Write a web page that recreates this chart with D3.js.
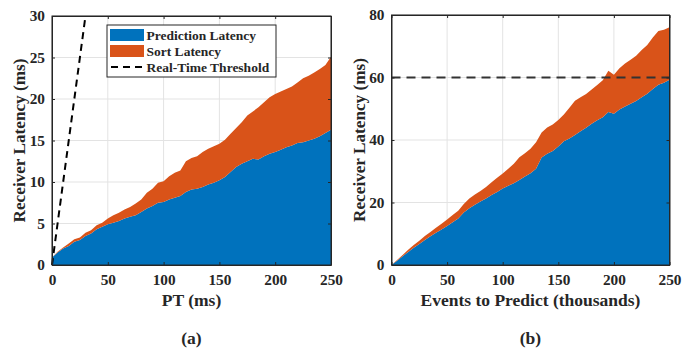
<!DOCTYPE html>
<html><head><meta charset="utf-8">
<script src="https://cdn.jsdelivr.net/npm/d3@7"></script>
<style>
body{margin:0;background:#fff;}
text{font-family:"Liberation Serif","Times New Roman",serif;font-weight:bold;fill:#262626;}
</style></head>
<body><svg id="c" width="694" height="348"></svg>
<script>
// ---- data ----
const xA = [0,5,10,15,20,25,30,35,40,45,50,55,60,65,70,75,80,85,90,95,100,105,110,115,120,125,130,135,140,145,150,155,160,165,170,175,180,185,190,195,200,205,210,215,220,225,230,235,240,245,250];
const predA = [0.9,1.5,2.0,2.3,2.8,3.0,3.5,3.8,4.3,4.6,4.9,5.1,5.3,5.6,5.8,6.0,6.4,6.8,7.1,7.5,7.6,7.9,8.1,8.3,8.8,9.1,9.2,9.4,9.7,9.9,10.2,10.6,11.2,11.8,12.2,12.5,12.8,12.7,13.1,13.4,13.6,13.9,14.2,14.4,14.7,14.8,15.0,15.2,15.5,15.9,16.3];
const sortA = [0.0,0.1,0.1,0.3,0.3,0.3,0.4,0.4,0.5,0.5,0.7,0.9,1.0,1.1,1.2,1.4,1.5,1.9,2.1,2.4,2.5,2.8,3.0,3.1,3.7,3.8,3.9,4.2,4.3,4.4,4.4,4.5,4.6,4.7,5.0,5.5,5.7,6.3,6.5,6.8,7.0,7.0,7.0,7.1,7.3,7.7,7.8,8.0,8.1,8.2,8.8];
const thresholdA = [0, 30];

const xB = [0,5,10,15,20,25,30,35,40,45,50,55,60,65,70,75,80,85,90,95,100,105,110,115,120,125,130,135,140,145,150,155,160,165,170,175,180,185,190,195,200,205,210,215,220,225,230,235,240,245,250];
const predB = [0,1.4,2.8,4.2,5.5,6.7,8.0,9.2,10.3,11.4,12.5,13.7,14.9,16.8,18.2,19.3,20.3,21.3,22.4,23.4,24.5,25.4,26.2,27.2,28.3,29.4,30.8,34.4,35.6,36.5,37.9,39.6,40.5,41.6,42.8,43.9,45.2,46.3,47.3,49.0,48.4,49.8,50.7,51.6,52.5,53.7,54.8,56.3,57.7,58.3,59.3];
const sortB = [0,0.2,0.4,0.7,0.9,1.1,1.3,1.4,1.6,1.8,2.1,2.3,2.5,2.7,3.1,3.3,3.4,3.7,4.1,4.5,4.8,5.4,6.2,7.3,7.5,7.8,8.5,8.0,8.4,8.5,8.5,8.6,9.8,11.0,10.9,10.8,11.0,11.3,11.8,13.2,12.5,13.2,13.8,14.1,14.5,15.1,15.6,16.5,17.2,17.0,16.8];
const thresholdB = 60;

const seriesNames = ["Prediction Latency","Sort Latency","Real-Time Threshold"];
const xTicks = [0,50,100,150,200,250];
const yTicksA = [0,5,10,15,20,25,30];
const yTicksB = [0,20,40,60,80];

const colors = ["#0072BD","#D95319"];

// ---- drawing ----
const svg = d3.select("#c");

function panel(opt){
  const g = svg.append("g");
  const x = d3.scaleLinear().domain([0,250]).range([opt.left, opt.right]);
  const y = d3.scaleLinear().domain([0,opt.ymax]).range([opt.bottom, opt.top]);
  g.append("g").selectAll("line").data(xTicks).join("line")
    .attr("x1",d=>x(d)).attr("x2",d=>x(d)).attr("y1",opt.top).attr("y2",opt.bottom)
    .attr("stroke","#e3e3e3").attr("stroke-width",1);
  g.append("g").selectAll("line").data(opt.yTicks).join("line")
    .attr("y1",d=>y(d)).attr("y2",d=>y(d)).attr("x1",opt.left).attr("x2",opt.right)
    .attr("stroke","#e3e3e3").attr("stroke-width",1);
  const rows = opt.xs.map((v,i)=>({x:v, pred:opt.pred[i], sort:opt.sort[i]}));
  const stack = d3.stack().keys(["pred","sort"])(rows);
  const area = d3.area().x(d=>x(d.data.x)).y0(d=>y(d[0])).y1(d=>y(d[1]));
  g.append("g").selectAll("path").data(stack).join("path")
    .attr("d",area).attr("fill",(d,i)=>colors[i]);
  return {g,x,y};
}

function axes(p, opt){
  const {g,x,y} = p;
  g.append("rect").attr("x",opt.left).attr("y",opt.top)
    .attr("width",opt.right-opt.left).attr("height",opt.bottom-opt.top)
    .attr("fill","none").attr("stroke","#262626").attr("stroke-width",1);
  const xa = g.append("g").attr("transform",`translate(0,${opt.bottom})`)
    .call(d3.axisBottom(x).tickValues(xTicks).tickSizeInner(-3).tickSizeOuter(0).tickPadding(9));
  const ya = g.append("g").attr("transform",`translate(${opt.left},0)`)
    .call(d3.axisLeft(y).tickValues(opt.yTicks).tickSizeInner(-3).tickSizeOuter(0).tickPadding(7));
  g.append("g").attr("transform",`translate(${opt.right},0)`)
    .call(d3.axisRight(y).tickValues(opt.yTicks).tickSizeInner(-3).tickSizeOuter(0).tickFormat(""));
  g.append("g").attr("transform",`translate(0,${opt.top})`)
    .call(d3.axisTop(x).tickValues(xTicks).tickSizeInner(-3).tickSizeOuter(0).tickFormat(""));
  g.selectAll(".domain").attr("stroke","#262626");
  g.selectAll(".tick line").attr("stroke","#262626");
  [xa,ya].forEach(a=>a.selectAll("text").style("font-family","'Liberation Serif','Times New Roman',serif")
    .style("font-weight","bold").style("font-size","15.3px").attr("fill","#262626"));
  const cx = (opt.left+opt.right)/2;
  g.append("text").attr("x",cx).attr("y",306).attr("text-anchor","middle")
    .style("font-size","17.5px").text(opt.xlabel);
  g.append("text").attr("transform",`translate(${opt.left-33},${(opt.top+opt.bottom)/2}) rotate(-90)`)
    .attr("dy","0.35em").attr("text-anchor","middle").style("font-size","17.2px").text("Receiver Latency (ms)");
  g.append("text").attr("x",cx).attr("y",344).attr("text-anchor","middle")
    .style("font-size","17.5px").text(opt.tag);
}

const optA = {left:52,right:331,top:16,bottom:265,ymax:30,yTicks:yTicksA,xs:xA,pred:predA,sort:sortA,xlabel:"PT (ms)",tag:"(a)"};
const pA = panel(optA);
pA.g.append("path").datum(thresholdA)
  .attr("d",d3.line().x(d=>pA.x(d)).y(d=>pA.y(d)))
  .attr("stroke","#000").attr("stroke-width",2).attr("stroke-dasharray","7,5").attr("fill","none");
axes(pA,optA);

const optB = {left:391.5,right:669.5,top:15,bottom:265,ymax:80,yTicks:yTicksB,xs:xB,pred:predB,sort:sortB,xlabel:"Events to Predict (thousands)",tag:"(b)"};
const pB = panel(optB);
pB.g.append("line").attr("x1",pB.x(0)).attr("x2",pB.x(250))
  .attr("y1",pB.y(thresholdB)).attr("y2",pB.y(thresholdB))
  .attr("stroke","#333").attr("stroke-width",2).attr("stroke-dasharray","9,6");
axes(pB,optB);

// legend
const lg = svg.append("g");
lg.append("rect").attr("x",107).attr("y",25).attr("width",169).attr("height",52)
  .attr("fill","#fff").attr("stroke","#262626").attr("stroke-width",1);
const rowsY = [35,51,67];
seriesNames.forEach((n,i)=>{
  if(i<2){
    lg.append("rect").attr("x",110).attr("y",rowsY[i]-6).attr("width",34).attr("height",12).attr("fill",colors[i]);
  } else {
    lg.append("line").attr("x1",111).attr("x2",143).attr("y1",rowsY[i]).attr("y2",rowsY[i])
      .attr("stroke","#000").attr("stroke-width",2).attr("stroke-dasharray","7,5");
  }
  lg.append("text").attr("x",146.5).attr("y",rowsY[i]+4.5).style("font-size","13.5px").text(n);
});
</script></body></html>
